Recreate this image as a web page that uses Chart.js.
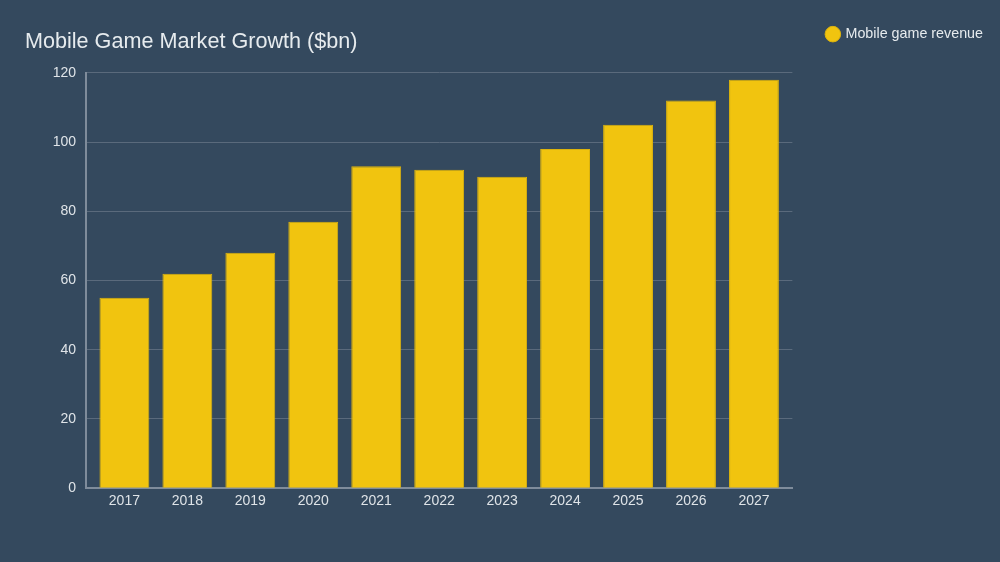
<!DOCTYPE html>
<html lang="en">
<head>
    <meta charset="UTF-8">
    <title>Mobile Game Market Growth</title>
    <script src="https://cdn.jsdelivr.net/npm/chart.js"></script>
    <style>
        html, body { margin: 0; padding: 0; background: #34495e; }
        .chart-container { width: 1000px; height: 562px; }
    </style>
</head>
<body>
<div class="chart-container">
    <canvas id="chart"></canvas>
</div>
<script>
    const years = ["2017", "2018", "2019", "2020", "2021", "2022", "2023", "2024", "2025", "2026", "2027"];
    const revenue = [55, 62, 68, 77, 93, 92, 90, 98, 105, 112, 118];
    const seriesName = "Mobile game revenue";

    Chart.defaults.font.family = "'Liberation Sans', Arial, sans-serif";

    // x is a numeric index so the axis line can run a bit past the outer bars
    const points = years.map((yr, i) => ({ x: i, y: revenue[i] }));

    new Chart(document.getElementById('chart').getContext('2d'), {
        type: 'bar',
        data: {
            datasets: [{
                label: seriesName,
                data: points,
                backgroundColor: '#f1c40f',
                borderColor: '#dcb30d',
                borderWidth: 1,
                barPercentage: 0.99,
                categoryPercentage: 0.8
            }]
        },
        options: {
            responsive: true,
            maintainAspectRatio: false,
            animation: false,
            layout: {
                padding: { left: 25, right: 7, top: 15, bottom: 47 }
            },
            scales: {
                x: {
                    type: 'linear',
                    offset: false,
                    min: -0.61,
                    max: years.length - 1 + 0.61,
                    grid: { display: false, drawTicks: false },
                    border: { color: '#7f8c9b', width: 2 },
                    ticks: {
                        stepSize: 1,
                        includeBounds: false,
                        autoSkip: false,
                        maxRotation: 0,
                        color: '#dfe4e8',
                        font: { size: 14 },
                        padding: 5,
                        callback: (v) => years[v] !== undefined ? years[v] : ''
                    }
                },
                y: {
                    min: 0,
                    max: 120,
                    ticks: { stepSize: 20, color: '#dfe4e8', font: { size: 14 }, padding: 10 },
                    grid: { color: '#5a6a7c', drawTicks: false },
                    border: { color: '#7f8c9b', width: 2 },
                    afterFit: (scale) => { scale.width = 61; }
                },
                // empty right axis, only keeps a gap between plot and legend
                gap: {
                    position: 'right',
                    display: true,
                    ticks: { display: false },
                    grid: { display: false, drawTicks: false },
                    border: { display: false },
                    afterFit: (scale) => { scale.width = 23; }
                }
            },
            plugins: {
                title: {
                    display: true,
                    text: 'Mobile Game Market Growth ($bn)',
                    align: 'start',
                    color: '#e6ebee',
                    font: { size: 21.6, weight: 'normal' },
                    padding: { top: 14, bottom: 18 }
                },
                legend: {
                    position: 'right',
                    align: 'start',
                    maxWidth: 220,
                    labels: {
                        color: '#e6ebee',
                        font: { size: 14.3 },
                        usePointStyle: true,
                        pointStyle: 'circle',
                        boxWidth: 11,
                        boxHeight: 11,
                        padding: 12
                    }
                },
                tooltip: { enabled: false }
            }
        }
    });
</script>
</body>
</html>
